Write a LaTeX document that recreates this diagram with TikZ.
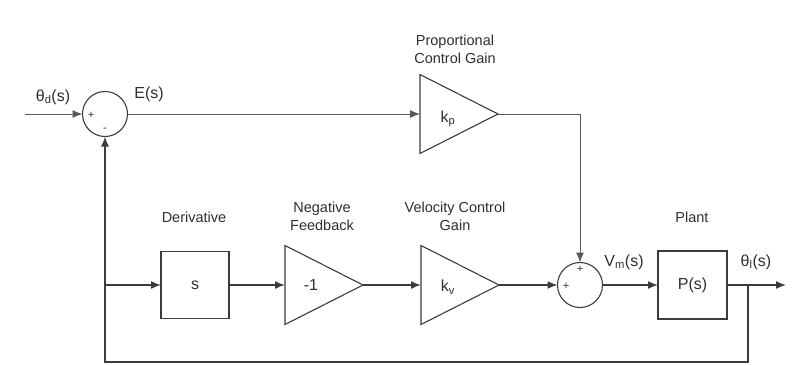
\documentclass[tikz,border=0pt]{standalone}
\usepackage{fontspec}
\setmainfont{Liberation Sans}
\usetikzlibrary{arrows.meta,shapes.geometric}
\definecolor{ink}{HTML}{2E2E2E}
\definecolor{wire}{HTML}{3C3C3C}
\begin{document}
\begin{tikzpicture}[x=1pt,y=-1pt,
  every node/.style={text=ink,font=\fontsize{16}{18}\selectfont},
  sumnode/.style={circle,draw=wire,line width=1.1pt,minimum size=45pt,inner sep=0pt,outer sep=0pt},
  blockbox/.style={rectangle,draw=wire,line width=1.1pt,minimum width=68pt,minimum height=67pt,inner sep=0pt,outer sep=0pt},
  gainnode/.style={isosceles triangle,isosceles triangle stretches,draw=wire,line width=1.1pt,
    minimum width=79pt,minimum height=78pt,inner sep=0pt,outer sep=0pt,anchor=west},
  sig/.style={draw=wire,line width=1.5pt,-{Latex[length=10pt,width=8pt]}},
  sigthin/.style={draw=wire!85,line width=1pt,-{Latex[length=10pt,width=8pt]}},
  signmark/.style={font=\fontsize{11}{12}\selectfont,inner sep=0pt},
  caption/.style={align=center,font=\fontsize{14.5}{18}\selectfont}]

\useasboundingbox (0,0) rectangle (795,365);

% summing junctions
\node[sumnode] (sum1) at (105,114) {};
\node[sumnode] (sum2) at (580,285) {};
\node[signmark] at (91,115) {+};
\node[signmark] at (105,130) {-};
\node[signmark] at (566,286) {+};
\node[signmark] at (580,269) {+};

% gains and blocks
\node[gainnode] (kp) at (420,114) {};
\node[gainnode] (neg) at (285,285) {};
\node[gainnode] (kv) at (421,285) {};
\node[blockbox] (sblk) at (195,285) {s};
\node[blockbox,minimum width=69pt,minimum height=68pt] (plant) at (692.5,285) {P(s)};

\node at (448,119) {k\textsubscript{p}};
\node at (311,285) {-1};
\node at (448,287) {k\textsubscript{v}};

% captions
\node[caption] at (455,49) {Proportional\\Control Gain};
\node[caption] at (194,217) {Derivative};
\node[caption] at (322,216) {Negative\\Feedback};
\node[caption] at (455,216) {Velocity Control\\Gain};
\node[caption] at (692,217) {Plant};

% signal labels
\node at (53,97) {θ\textsubscript{d}(s)};
\node at (149,94) {E(s)};
\node at (624,262) {V\textsubscript{m}(s)};
\node at (756,262) {θ\textsubscript{l}(s)};

% free ends and corners
\coordinate (in) at (25,114);
\coordinate (out) at (786,285);
\coordinate (tap) at (748,285);
\coordinate (branch) at (105,285);
\coordinate (kpcorner) at (580,114);
\coordinate (tapbot) at (748,362);
\coordinate (fbbot) at (105,362);

% forward path
\draw[sigthin] (in) -- (sum1.west);
\draw[sigthin] (sum1.east) -- (kp.west);
\draw[sigthin] (kp.east) -- (kpcorner) -- (sum2.north);

% velocity loop
\draw[sig] (branch) -- (sblk.west);
\draw[sig] (sblk.east) -- (neg.west);
\draw[sig] (neg.east) -- (kv.west);
\draw[sig] (kv.east) -- (sum2.west);
\draw[sig] (sum2.east) -- (plant.west);
\draw[sig] (plant.east) -- (out);

% feedback
\draw[sig] (tap) -- (tapbot) -- (fbbot) -- (sum1.south);
\end{tikzpicture}
\end{document}
